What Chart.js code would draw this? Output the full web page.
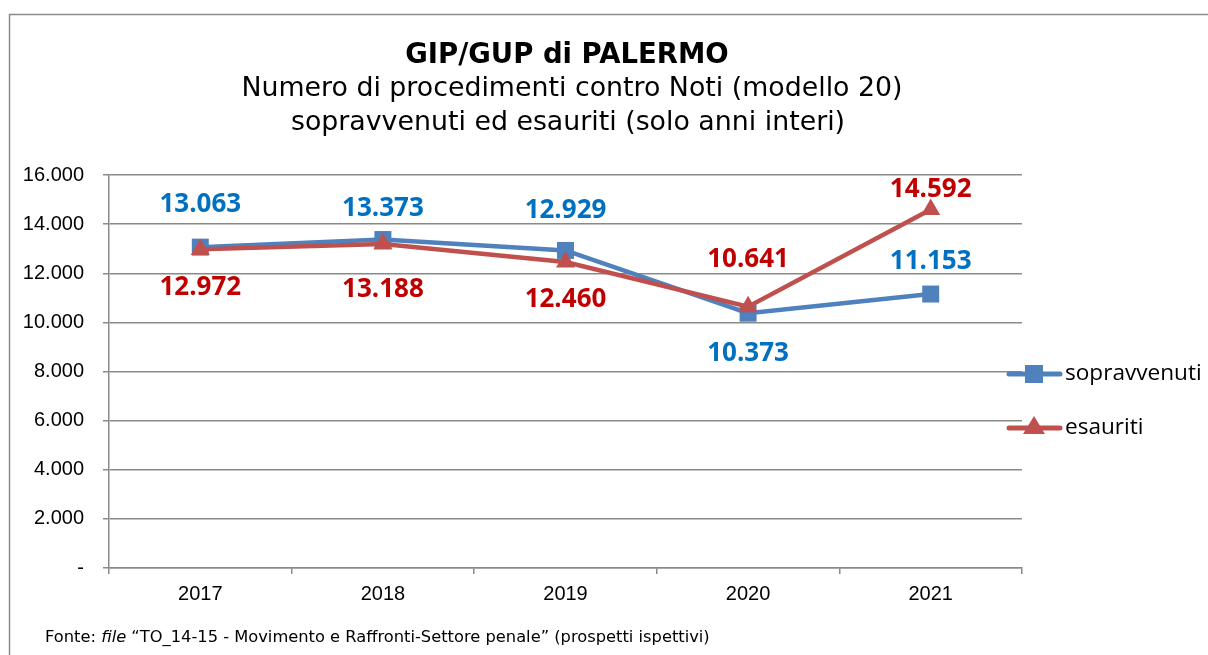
<!DOCTYPE html>
<html><head><meta charset="utf-8">
<script src="https://cdn.jsdelivr.net/npm/chart.js@4.4.1/dist/chart.umd.min.js"></script>
<style>html,body{margin:0;padding:0;background:#fff;}#wrap{width:1208px;height:655px;position:relative;}</style>
</head><body><div id="wrap"><canvas id="c" width="1208" height="655"></canvas></div>
<script>
const categories = ['2017', '2018', '2019', '2020', '2021'];
const sopravvenuti = [13063, 13373, 12929, 10373, 11153];
const esauriti = [12972, 13188, 12460, 10641, 14592];
const yTicks = [0, 2000, 4000, 6000, 8000, 10000, 12000, 14000, 16000];
const seriesNames = ['sopravvenuti', 'esauriti'];
const titleText = 'GIP/GUP di PALERMO';
const subtitleLines = ['Numero di procedimenti contro Noti (modello 20)', 'sopravvenuti ed esauriti (solo anni interi)'];

// label offsets (style, in pixels relative to point)
const labelOffsets = [[-43, -31, -40, 40, -32], [38, 46, 38, -47, -20]];
const labelColors = ['#0070C0', '#C00000'];

function fmtNum(v){ if (v===0) return '-'; return String(v).replace(/\B(?=(\d{3})+(?!\d))/g, '.'); }

const deco = {
  id: 'deco',
  beforeDraw(chart) {
    const ctx = chart.ctx;
    ctx.save();
    ctx.fillStyle = '#fff';
    ctx.fillRect(0, 0, chart.width, chart.height);
    ctx.strokeStyle = '#8a8a8a';
    ctx.lineWidth = 1.5;
    ctx.beginPath();
    ctx.moveTo(9.5, 655); ctx.lineTo(9.5, 14.5); ctx.lineTo(1208, 14.5);
    ctx.stroke();
    ctx.fillStyle = '#000';
    ctx.textAlign = 'center';
    ctx.textBaseline = 'middle';
    ctx.font = 'bold 27.5px "DejaVu Sans"';
    ctx.fillText(titleText, 567, 56);
    ctx.font = '26.8px "DejaVu Sans"';
    ctx.fillText(subtitleLines[0], 572, 89);
    ctx.fillText(subtitleLines[1], 568, 123);
    // footer
    ctx.textAlign = 'left';
    let x = 45; const y = 638;
    const parts = [['Fonte: ', false], ['file', true], [' \u201CTO_14-15 - Movimento e Raffronti-Settore penale\u201D (prospetti ispettivi)', false]];
    for (const [t, it] of parts) {
      ctx.font = (it ? 'italic ' : '') + '16.3px "DejaVu Sans"';
      ctx.fillText(t, x, y);
      x += ctx.measureText(t).width;
    }
    ctx.restore();
  },
  afterDatasetsDraw(chart) {
    const ctx = chart.ctx;
    ctx.save();
    ctx.textAlign = 'center';
    ctx.textBaseline = 'middle';
    ctx.font = 'bold 26px "Open Sans"';
    chart.data.datasets.forEach((ds, di) => {
      const meta = chart.getDatasetMeta(di);
      meta.data.forEach((pt, i) => {
        ctx.fillStyle = labelColors[di];
        ctx.fillText(fmtNum(ds.data[i]), pt.x, pt.y + labelOffsets[di][i]);
      });
    });
    // legend
    const legendY = [374, 428];
    chart.data.datasets.forEach((ds, di) => {
      const y = legendY[di];
      ctx.strokeStyle = ds.borderColor;
      ctx.lineWidth = 5;
      ctx.lineCap = 'round';
      ctx.beginPath(); ctx.moveTo(1009, y); ctx.lineTo(1060, y); ctx.stroke();
      ctx.fillStyle = ds.backgroundColor;
      if (di === 0) {
        ctx.fillRect(1025, y - 9, 18, 18);
      } else {
        ctx.beginPath(); ctx.moveTo(1034, y - 12); ctx.lineTo(1045, y + 6); ctx.lineTo(1023, y + 6); ctx.closePath(); ctx.fill();
      }
      ctx.fillStyle = '#000';
      ctx.textAlign = 'left';
      ctx.font = '22.6px "Open Sans"';
      ctx.fillText(ds.label, 1065, y);
    });
    ctx.restore();
  }
};

new Chart(document.getElementById('c'), {
  type: 'line',
  data: {
    labels: categories,
    datasets: [
      { label: seriesNames[0], data: sopravvenuti, borderColor: '#4F81BD', backgroundColor: '#4F81BD', borderWidth: 4.5,
        pointStyle: 'rect', pointRadius: 12, pointBorderWidth: 0, pointHoverRadius: 12, tension: 0, order: 1 },
      { label: seriesNames[1], data: esauriti, borderColor: '#C0504D', backgroundColor: '#C0504D', borderWidth: 4.5,
        pointStyle: 'triangle', pointRadius: 11, pointBorderWidth: 0, pointHoverRadius: 11, tension: 0, order: 0 }
    ]
  },
  options: {
    responsive: false,
    animation: false,
    devicePixelRatio: 1,
    events: [],
    layout: { padding: { left: 9, top: 175, right: 186, bottom: 47 } },
    plugins: { legend: { display: false }, title: { display: false }, tooltip: { enabled: false } },
    scales: {
      x: {
        offset: true,
        grid: { offset: true, drawOnChartArea: false, drawTicks: true, tickLength: 6, color: '#8a8a8a', lineWidth: 1.5 },
        border: { color: '#8a8a8a', width: 1.5 },
        ticks: { color: '#000', font: { family: '"Liberation Sans"', size: 20 }, padding: 8, maxRotation: 0 },
        afterFit(s) { s.height = 40; }
      },
      y: {
        min: 0, max: 16000,
        afterBuildTicks(s) { s.ticks = yTicks.map(v => ({ value: v })); },
        grid: { drawTicks: true, tickLength: 6, color: '#8a8a8a', lineWidth: 1.5 },
        border: { color: '#8a8a8a', width: 1.5 },
        ticks: { color: '#000', font: { family: '"Liberation Sans"', size: 20 }, padding: 19, callback: v => fmtNum(v) },
        afterFit(s) { s.width = 100; }
      }
    }
  },
  plugins: [deco]
});
</script></body></html>
